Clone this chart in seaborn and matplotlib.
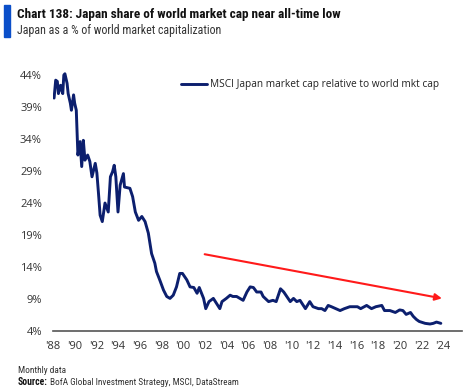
import matplotlib
matplotlib.use("Agg")
import matplotlib.pyplot as plt
import seaborn as sns
import pandas as pd
from matplotlib import font_manager

# ---- data ----
years = [1988.1, 1988.25, 1988.4, 1988.5, 1988.7, 1988.9, 1989.0, 1989.1, 1989.3, 1989.4,
         1989.6, 1989.7, 1989.9, 1990.0, 1990.15, 1990.25, 1990.3, 1990.5, 1990.65, 1990.8,
         1990.95, 1991.2, 1991.4, 1991.6, 1991.9, 1992.05, 1992.2, 1992.35, 1992.55, 1992.8,
         1993.1, 1993.3, 1993.5, 1993.65, 1993.8, 1994.0, 1994.2, 1994.5, 1994.6, 1995.1,
         1995.35, 1995.6, 1995.9, 1996.2, 1996.5, 1996.8, 1997.1, 1997.4, 1997.55, 1997.85,
         1998.2, 1998.5, 1998.8, 1999.1, 1999.4, 1999.7, 1999.95, 2000.35, 2000.65, 2001.0,
         2001.3, 2001.5, 2001.9, 2002.1, 2002.4, 2002.8, 2003.1, 2003.4, 2003.6, 2004.0,
         2004.35, 2004.6, 2004.95, 2005.55, 2005.9, 2006.2, 2006.5, 2006.8, 2007.2, 2007.4,
         2007.9, 2008.3, 2008.6, 2009.0, 2009.3, 2009.5, 2009.9, 2010.2, 2010.5, 2010.8,
         2011.3, 2011.7, 2012.0, 2012.5, 2012.8, 2013.1, 2013.4, 2013.7, 2014.1, 2014.5,
         2014.9, 2015.4, 2015.8, 2016.1, 2016.4, 2016.95, 2017.4, 2017.8, 2018.35, 2018.6,
         2019.1, 2019.6, 2020.0, 2020.3, 2020.6, 2021.0, 2021.25, 2021.55, 2021.8, 2022.35,
         2022.8, 2023.1, 2023.4, 2023.8]
share = [40.4, 43.2, 43.0, 41.1, 42.4, 41.1, 44.0, 44.2, 42.7, 41.1,
         39.6, 38.5, 40.9, 39.6, 38.5, 33.8, 31.5, 33.6, 29.7, 33.8,
         30.7, 31.5, 30.5, 28.1, 30.2, 28.7, 25.5, 22.1, 21.1, 24.0,
         22.6, 28.1, 28.9, 29.9, 28.1, 22.6, 26.8, 28.6, 26.5, 26.3,
         25.0, 22.6, 21.3, 21.9, 21.1, 19.3, 16.1, 14.6, 13.3, 12.0,
         10.4, 9.4, 9.1, 9.6, 10.9, 13.0, 13.0, 12.0, 10.9, 10.8,
         9.9, 10.8, 9.1, 7.5, 8.6, 9.1, 8.3, 7.5, 8.6, 9.1,
         9.6, 9.4, 9.4, 8.8, 10.1, 10.9, 10.8, 10.1, 10.1, 9.4,
         8.6, 8.8, 8.6, 10.6, 10.1, 9.6, 8.6, 9.1, 8.6, 8.8,
         7.5, 8.6, 7.8, 7.5, 7.5, 7.2, 8.0, 7.8, 7.5, 7.2,
         7.5, 7.8, 7.8, 7.8, 7.5, 8.0, 7.5, 7.8, 8.0, 7.2,
         7.2, 6.9, 7.3, 7.2, 6.6, 6.9, 6.3, 5.8, 5.5, 5.2,
         5.1, 5.2, 5.4, 5.2]
series_name = "MSCI Japan market cap relative to world mkt cap"
y_ticks = [4, 9, 14, 19, 24, 29, 34, 39, 44]
x_ticks = list(range(1988, 2025, 2))
x_labels = ["'" + str(y)[2:] for y in x_ticks]
trend_start = (2002.0, 16.0)
trend_end = (2023.9, 9.1)

# ---- style ----
sns.set_style("white")
names = {f.name for f in font_manager.fontManager.ttflist}
narrow = None
for cand in ["Roboto Condensed", "Liberation Sans Narrow", "Open Sans Condensed", "Roboto"]:
    if cand in names:
        narrow = cand
        break
if narrow is None:
    narrow = "DejaVu Sans"
plt.rcParams["font.family"] = ["Open Sans", "DejaVu Sans"]

fig = plt.figure(figsize=(4.69, 3.89), dpi=100)
ax = fig.add_axes([0.113, 0.149, 0.872, 0.691])

df = pd.DataFrame({"year": years, "share": share, "series": series_name})
sns.lineplot(data=df, x="year", y="share", hue="series", palette=["#0c1f6e"],
             linewidth=2.1, ax=ax, legend=True)

ax.set_xlim(1988, 2025.75)
ax.set_ylim(4, 46)
ax.set_yticks(y_ticks)
ax.set_yticklabels([f"{v}%" for v in y_ticks])
ax.set_xticks(x_ticks)
ax.set_xticklabels(x_labels)
ax.set_xlabel("")
ax.set_ylabel("")
ax.tick_params(axis="both", length=0, labelsize=8, labelcolor="#333333")
ax.tick_params(axis="y", pad=8)
ax.tick_params(axis="x", pad=7)
for s in ["top", "right", "left"]:
    ax.spines[s].set_visible(False)
ax.spines["bottom"].set_color("#555555")
ax.spines["bottom"].set_linewidth(1.2)

ax.annotate("", xy=trend_end, xytext=trend_start,
            arrowprops=dict(arrowstyle="-|>", color="#ff1a1a", lw=1.5,
                            mutation_scale=10, shrinkA=0, shrinkB=0))

leg = ax.legend(loc="upper left", bbox_to_anchor=(0.29, 0.97), frameon=False,
                fontsize=7.3, handlelength=2.6, handletextpad=0.25)
for t in leg.get_texts():
    t.set_color("#222222")

# header
fig.patches.append(plt.Rectangle((0.009, 0.905), 0.012, 0.082, transform=fig.transFigure,
                                 color="#0b4fc9", zorder=5))
title = fig.text(0.036, 0.962, "Chart 138: Japan share of world market cap near all-time low",
                 fontsize=9.5, fontweight="bold", family=[narrow, "DejaVu Sans"],
                 color="#111111", va="center")
sub = fig.text(0.036, 0.922, "Japan as a % of world market capitalization",
               fontsize=8.5, family=[narrow, "DejaVu Sans"], color="#333333", va="center")

# footer
mon = fig.text(0.038, 0.047, "Monthly data", fontsize=5.8, color="#333333", va="center",
               family=[narrow, "DejaVu Sans"])
src = fig.text(0.038, 0.017, "Source:", fontsize=5.8, fontweight="bold", color="#111111",
               va="center", family=[narrow, "DejaVu Sans"])
src2 = fig.text(0.107, 0.017, "BofA Global Investment Strategy, MSCI, DataStream", fontsize=5.8,
                color="#333333", va="center", family=[narrow, "DejaVu Sans"])

# fit header/footer texts to the widths seen in the reference
fig.canvas.draw()
r = fig.canvas.get_renderer()
for txt, target in [(title, 326), (sub, 203), (src, 29), (src2, 188), (mon, 48)]:
    w = txt.get_window_extent(r).width
    txt.set_fontsize(txt.get_fontsize() * target / w)

fig.savefig("out.png", dpi=100)
